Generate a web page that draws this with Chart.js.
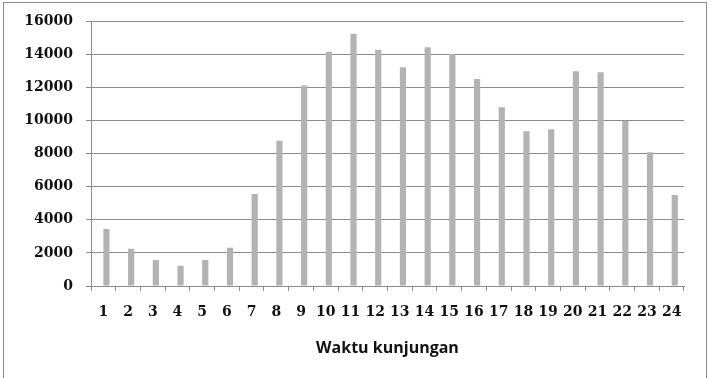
<!DOCTYPE html>
<html>
<head>
<meta charset="utf-8">
<script src="https://cdn.jsdelivr.net/npm/chart.js@4/dist/chart.umd.min.js"></script>
<style>
  html, body { margin: 0; padding: 0; background: #ffffff; }
  #wrap { position: relative; width: 717px; height: 378px; }
</style>
</head>
<body>
<div id="wrap"><canvas id="c" width="717" height="378"></canvas></div>
<script>
const categories = ["1","2","3","4","5","6","7","8","9","10","11","12","13","14","15","16","17","18","19","20","21","22","23","24"];
const visitors = [3450, 2250, 1570, 1230, 1570, 2310, 5560, 8780, 12120, 14170, 15260, 14290, 13220, 14430, 14030, 12520, 10810, 9360, 9480, 12980, 12920, 10000, 8090, 5510];
const emptySeries = categories.map(() => null);
const yTicks = [0, 2000, 4000, 6000, 8000, 10000, 12000, 14000, 16000];
const xTitle = "Waktu kunjungan";

const frame = {
  id: 'frame',
  beforeDraw(chart) {
    const ctx = chart.ctx;
    ctx.save();
    ctx.fillStyle = '#ffffff';
    ctx.fillRect(0, 0, chart.width, chart.height);
    ctx.strokeStyle = '#8c8c8c';
    ctx.lineWidth = 1;
    ctx.strokeRect(3.5, 2.5, 703, 390);
    ctx.restore();
  }
};

const tickFont = { family: 'DejaVu Serif', size: 14, weight: 'bold' };

new Chart(document.getElementById('c'), {
  type: 'bar',
  data: {
    labels: categories,
    datasets: [
      { label: '', data: emptySeries, backgroundColor: '#b3b3b3' },
      { label: 'Waktu kunjungan', data: visitors, backgroundColor: '#b3b3b3', borderWidth: 0 }
    ]
  },
  options: {
    responsive: false,
    animation: false,
    devicePixelRatio: 1,
    layout: { padding: { left: 0, top: 21, right: 33, bottom: 0 } },
    datasets: { bar: { categoryPercentage: 0.5, barPercentage: 1.0 } },
    plugins: { legend: { display: false }, tooltip: { enabled: false } },
    scales: {
      x: {
        grid: { display: true, drawOnChartArea: false, drawTicks: true, tickLength: 5, color: '#8c8c8c', offset: true },
        border: { display: true, color: '#8c8c8c' },
        ticks: { color: '#111111', font: tickFont, padding: 13, maxRotation: 0, autoSkip: false },
        title: { display: true, text: xTitle, color: '#111111', font: { family: 'Open Sans', size: 16, weight: 'bold' }, padding: { top: 0, bottom: 20 } },
        afterFit(scale) { scale.height = 92; }
      },
      y: {
        min: 0, max: 16000,
        afterBuildTicks(scale) { scale.ticks = yTicks.map(v => ({ value: v })); },
        grid: { color: '#8c8c8c', drawTicks: true, tickLength: 5 },
        border: { display: true, color: '#8c8c8c' },
        ticks: { color: '#111111', font: tickFont, padding: 13, callback: (v) => String(v) },
        afterFit(scale) { scale.width = 91; }
      }
    }
  },
  plugins: [frame]
});
</script>
</body>
</html>
